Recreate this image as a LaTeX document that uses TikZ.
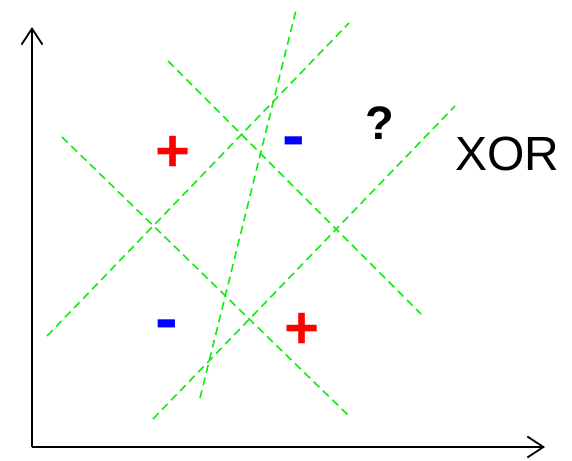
\documentclass[tikz,border=0pt]{standalone}
\usepackage{fontspec}
\setmainfont{Liberation Sans}
\usetikzlibrary{arrows.meta}
\definecolor{sepgreen}{RGB}{20,235,20}
\begin{document}
\begin{tikzpicture}[x=1pt,y=-1pt,
  axis/.style={line width=1.8pt,-{Straight Barb[length=16pt,width=21pt,line width=1.8pt]}},
  sep/.style={sepgreen,line width=1.6pt,dash pattern=on 8pt off 5pt},
  plus/.style={text=red,font=\fontsize{60}{60}\selectfont\bfseries,inner sep=0pt},
  minus/.style={text=blue,font=\fontsize{68}{68}\selectfont\bfseries,inner sep=0pt},
  lbl/.style={inner sep=0pt}]
\useasboundingbox (0,0) rectangle (572,460);
% axes
\coordinate (o) at (32,447);
\coordinate (ytop) at (32,27);
\coordinate (xend) at (545,447);
\draw[axis] (o) -- (ytop);
\draw[axis] (o) -- (xend);
% separating lines
\coordinate (a1) at (47,336); \coordinate (a2) at (349,23);
\coordinate (b1) at (62,137); \coordinate (b2) at (349,416);
\coordinate (c1) at (168,61); \coordinate (c2) at (421,314);
\coordinate (d1) at (153,419); \coordinate (d2) at (455,106);
\coordinate (e1) at (200,398); \coordinate (e2) at (296,10);
\draw[sep] (a1) -- (a2);
\draw[sep] (b1) -- (b2);
\draw[sep] (c1) -- (c2);
\draw[sep] (d1) -- (d2);
\draw[sep] (e1) -- (e2);
% labels
\node[plus] (p1) at (173,154) {+};
\node[plus] (p2) at (302,331) {+};
\node[minus] (m1) at (294,148) {-};
\node[minus] (m2) at (167,331) {-};
\node[lbl,font=\fontsize{47}{47}\selectfont\bfseries] (q) at (380,123) {?};
\node[lbl,font=\fontsize{48}{48}\selectfont] (xor) at (507,154) {XOR};
\end{tikzpicture}
\end{document}
